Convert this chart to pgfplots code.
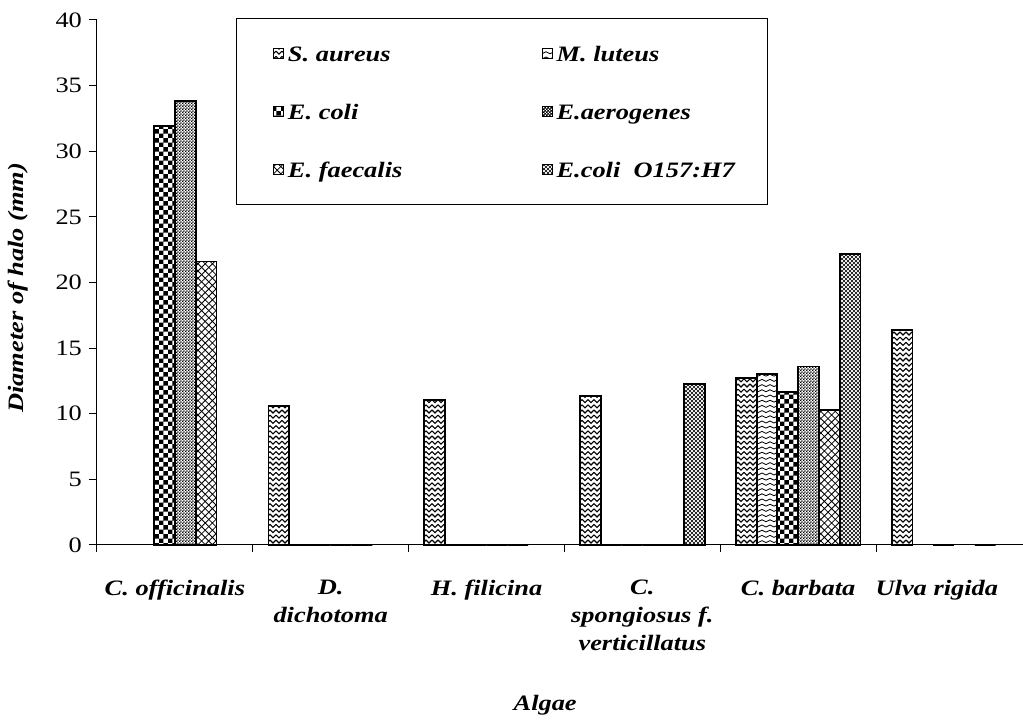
\documentclass[border=0pt]{standalone}
\usepackage{fontspec}
\setmainfont{Liberation Serif}[FakeStretch=1.2]
\usepackage{pgfplots}
\pgfplotsset{compat=1.18}
\usetikzlibrary{patterns,calc}

% S. aureus: chevrons
\pgfdeclarepatternformonly{chevron}{\pgfqpoint{-0.5pt}{-0.5pt}}{\pgfqpoint{3.5pt}{3.1pt}}{\pgfqpoint{3pt}{2.6pt}}{%
  \pgfsetlinewidth{0.55pt}%
  \pgfpathmoveto{\pgfqpoint{0pt}{2.1pt}}%
  \pgfpathlineto{\pgfqpoint{1.5pt}{0.6pt}}%
  \pgfpathlineto{\pgfqpoint{3pt}{2.1pt}}%
  \pgfusepath{stroke}}
% M. luteus: waves
\pgfdeclarepatternformonly{waves}{\pgfqpoint{-0.5pt}{-0.5pt}}{\pgfqpoint{4.5pt}{3.1pt}}{\pgfqpoint{4pt}{2.6pt}}{%
  \pgfsetlinewidth{0.4pt}%
  \pgfpathmoveto{\pgfqpoint{0pt}{1.3pt}}%
  \pgfpathcurveto{\pgfqpoint{0.55pt}{1.95pt}}{\pgfqpoint{1.45pt}{1.95pt}}{\pgfqpoint{2pt}{1.3pt}}%
  \pgfpathcurveto{\pgfqpoint{2.55pt}{0.65pt}}{\pgfqpoint{3.45pt}{0.65pt}}{\pgfqpoint{4pt}{1.3pt}}%
  \pgfusepath{stroke}}
% E. coli: big checkerboard
\pgfdeclarepatternformonly{bigchecker}{\pgfpointorigin}{\pgfqpoint{4.7pt}{4.7pt}}{\pgfqpoint{4.7pt}{4.7pt}}{%
  \pgfpathrectangle{\pgfpointorigin}{\pgfqpoint{2.35pt}{2.35pt}}%
  \pgfpathrectangle{\pgfqpoint{2.35pt}{2.35pt}}{\pgfqpoint{2.35pt}{2.35pt}}%
  \pgfusepath{fill}}
% E. aerogenes: fine checkerboard
\pgfdeclarepatternformonly{finechecker}{\pgfpointorigin}{\pgfqpoint{1.4pt}{1.4pt}}{\pgfqpoint{1.4pt}{1.4pt}}{%
  \pgfpathrectangle{\pgfpointorigin}{\pgfqpoint{0.75pt}{0.75pt}}%
  \pgfpathrectangle{\pgfqpoint{0.7pt}{0.7pt}}{\pgfqpoint{0.75pt}{0.75pt}}%
  \pgfusepath{fill}}
% E. faecalis: diagonal crosshatch
\pgfdeclarepatternformonly{diamonds}{\pgfqpoint{-0.5pt}{-0.5pt}}{\pgfqpoint{4.1pt}{4.1pt}}{\pgfqpoint{3.6pt}{3.6pt}}{%
  \pgfsetlinewidth{0.4pt}%
  \pgfpathmoveto{\pgfqpoint{0pt}{0pt}}\pgfpathlineto{\pgfqpoint{3.6pt}{3.6pt}}%
  \pgfpathmoveto{\pgfqpoint{0pt}{3.6pt}}\pgfpathlineto{\pgfqpoint{3.6pt}{0pt}}%
  \pgfusepath{stroke}}
% E. coli O157:H7: fine diagonal grid
\pgfdeclarepatternformonly{finegrid}{\pgfqpoint{-0.3pt}{-0.3pt}}{\pgfqpoint{2.3pt}{2.3pt}}{\pgfqpoint{2pt}{2pt}}{%
  \pgfsetlinewidth{0.28pt}%
  \pgfpathmoveto{\pgfqpoint{0pt}{0pt}}\pgfpathlineto{\pgfqpoint{2pt}{2pt}}%
  \pgfpathmoveto{\pgfqpoint{0pt}{2pt}}\pgfpathlineto{\pgfqpoint{2pt}{0pt}}%
  \pgfusepath{stroke}}

\begin{document}
\begin{tikzpicture}
\begin{axis}[
  scale only axis, width=463pt, height=262.5pt,
  xmin=-0.5, xmax=5.443, ymin=0, ymax=40,
  clip=false,
  axis x line*=bottom, axis y line*=left,
  axis line style={line width=0.5pt, black},
  ytick={0,5,...,40},
  xtick={0,1,2,3,4,4.89},
  xticklabels={{C. officinalis},{D.\\dichotoma},{H. filicina},{C.\\spongiosus f.\\verticillatus},{C. barbata},{Ulva rigida}},
  minor xtick={-0.5,0.5,1.5,2.5,3.5,4.5},
  tick align=outside,
  major tick length=4pt, minor tick length=3.5pt,
  major x tick style={draw=none},
  tick style={black, line width=0.5pt},
  /pgf/number format/assume math mode=true,
  yticklabel style={font=\fontsize{11}{13}\selectfont},
  xticklabel style={font=\fontsize{11}{14}\selectfont\bfseries\itshape, align=center, anchor=north, yshift=-10pt},
  xlabel={Algae},
  xlabel style={font=\fontsize{11}{13}\selectfont\bfseries\itshape, at={(axis description cs:0.484,-0.305)}, anchor=center},
  ylabel={Diameter of halo (mm)},
  ylabel style={font=\fontsize{11}{13}\selectfont\bfseries\itshape, at={(axis description cs:-0.0853,0.49)}, anchor=center, rotate=0},
  ybar=0pt, bar width=0.1333,
  every axis plot/.append style={draw=black, line width=0.9pt},
  legend image code/.code={\path (0pt,0pt); \draw[#1, line width=0.5pt] (6pt,-2.5pt) rectangle (11pt,2.5pt);},
  legend columns=2,
  legend cell align=left,
  legend style={at={(axis description cs:0.1501,1.0038)}, anchor=north west, draw=black, line width=0.6pt,
    font=\fontsize{11}{13.6}\selectfont\bfseries\itshape, inner xsep=12pt, inner ysep=10pt, row sep=14pt,
    /tikz/every even column/.append style={column sep=0pt}},
]
\coordinate (O) at (rel axis cs:0,0);
\addplot[pattern=chevron, bar shift=-0.3333] coordinates {(1,10.6) (2,11.05) (3,11.35) (4,12.7) (5,16.4)};
\addlegendentry{\makebox[118.6pt][l]{\strut S. aureus}}
\addplot[pattern=waves, bar shift=-0.2] coordinates {(1,0) (2,0) (3,0) (4,13.0)};
\addlegendentry{\makebox[91.6pt][l]{\strut M. luteus}}
\addplot[pattern=bigchecker, bar shift=-0.0667] coordinates {(0,31.9) (1,0) (2,0) (3,0) (4,11.65) (5,0)};
\addlegendentry{\makebox[118.6pt][l]{\strut E. coli}}
\addplot[pattern=finechecker, bar shift=0.0667] coordinates {(0,33.85) (1,0) (2,0) (3,0) (4,13.6)};
\addlegendentry{\makebox[91.6pt][l]{\strut E.aerogenes}}
\addplot[pattern=diamonds, bar shift=0.2] coordinates {(0,21.6) (1,0) (2,0) (3,0) (4,10.3) (5,0)};
\addlegendentry{\makebox[118.6pt][l]{\strut E. faecalis}}
\addplot[pattern=finegrid, bar shift=0.3333] coordinates {(3,12.25) (4,22.2)};
\addlegendentry{\makebox[91.6pt][l]{\strut E.coli\ \ O157:H7}}
\end{axis}
\pgfresetboundingbox
\useasboundingbox ($(O)+(-48.5pt,-88pt)$) rectangle ($(O)+(463pt,272.5pt)$);
\end{tikzpicture}
\end{document}
